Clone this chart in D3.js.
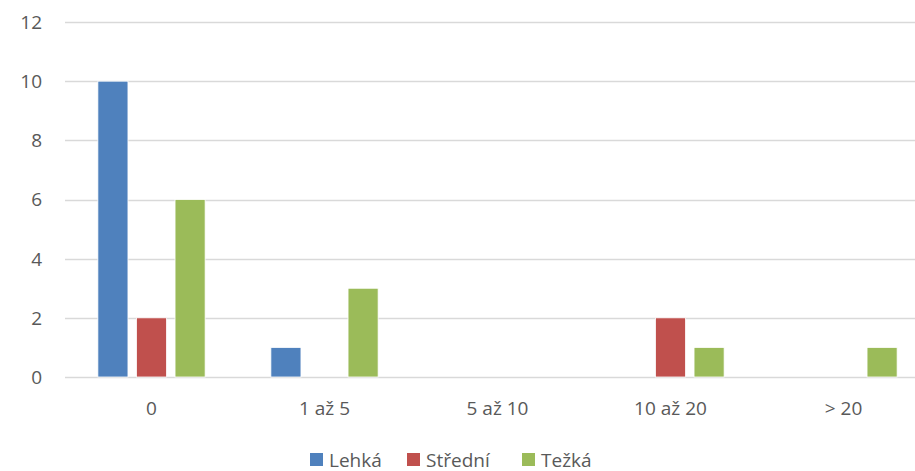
<!DOCTYPE html>
<html>
<head>
<meta charset="utf-8">
<script src="https://cdn.jsdelivr.net/npm/d3@7"></script>
<style>
  body { margin: 0; background: #fff; }
  svg { display: block; font-family: "Open Sans", Lato, sans-serif; }
</style>
</head>
<body>
<svg id="chart" width="915" height="471"></svg>
<script>
const categories = ["0", "1 až 5", "5 až 10", "10 až 20", "> 20"];
const seriesNames = ["Lehká", "Střední", "Težká"];
const lehka = [10, 1, 0, 0, 0];
const stredni = [2, 0, 0, 2, 0];
const tezka = [6, 3, 0, 1, 1];
const yTicks = [0, 2, 4, 6, 8, 10, 12];
const colors = ["#4f81bd", "#c0504d", "#9bbb59"];

const values = [lehka, stredni, tezka];
const svg = d3.select("#chart");

// plot runs off the right edge, like the original crop
const x0 = d3.scaleBand()
    .domain(categories)
    .range([65, 930])
    .paddingInner(0.38)
    .paddingOuter(0.19);

const x1 = d3.scaleBand()
    .domain(seriesNames)
    .range([0, x0.bandwidth()])
    .paddingInner(0.22);

const y = d3.scaleLinear()
    .domain([0, 12])
    .range([377, 22]);

const color = d3.scaleOrdinal().domain(seriesNames).range(colors);

// gridlines
svg.append("g")
    .selectAll("line")
    .data(yTicks)
    .join("line")
    .attr("x1", 65)
    .attr("x2", 915)
    .attr("y1", d => Math.round(y(d)) + 0.5)
    .attr("y2", d => Math.round(y(d)) + 0.5)
    .attr("stroke", "#d9d9d9")
    .attr("stroke-width", 1.3);

// y labels
svg.append("g")
    .selectAll("text")
    .data(yTicks)
    .join("text")
    .attr("x", 42)
    .attr("y", d => y(d))
    .attr("dy", "0.36em")
    .attr("text-anchor", "end")
    .attr("font-size", 19)
    .attr("fill", "#595959")
    .text(d => d);

// bars
const groups = svg.append("g")
    .selectAll("g")
    .data(categories)
    .join("g")
    .attr("transform", d => `translate(${x0(d)},0)`);

groups.selectAll("rect")
    .data((c, i) => seriesNames.map((s, k) => ({ s, v: values[k][i] })).filter(d => d.v > 0))
    .join("rect")
    .attr("x", d => x1(d.s))
    .attr("width", x1.bandwidth())
    .attr("y", d => y(d.v))
    .attr("height", d => y(0) - y(d.v))
    .attr("fill", d => color(d.s))
    .attr("stroke", "#fff")
    .attr("stroke-width", 0.8);

// x labels
svg.append("g")
    .selectAll("text")
    .data(categories)
    .join("text")
    .attr("x", d => x0(d) + x0.bandwidth() / 2)
    .attr("y", 415)
    .attr("text-anchor", "middle")
    .attr("font-size", 19)
    .attr("fill", "#595959")
    .text(d => d);

// legend
const legendX = [310, 407, 522];
const legend = svg.append("g")
    .selectAll("g")
    .data(seriesNames)
    .join("g")
    .attr("transform", (d, i) => `translate(${legendX[i]},453)`);

legend.append("rect")
    .attr("width", 13)
    .attr("height", 13)
    .attr("fill", d => color(d));

legend.append("text")
    .attr("x", 19)
    .attr("y", 13.5)
    .attr("font-size", 19)
    .attr("fill", "#595959")
    .text(d => d);
</script>
</body>
</html>
